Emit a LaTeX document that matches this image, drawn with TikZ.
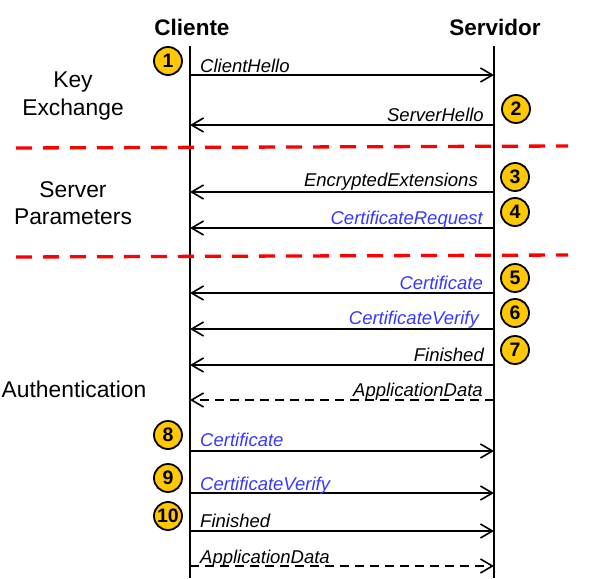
\documentclass[tikz,border=0pt]{standalone}
\usepackage{fontspec}
\setmainfont{Liberation Sans}
\usetikzlibrary{arrows.meta}
\definecolor{gold}{HTML}{FFC800}
\definecolor{msgblue}{HTML}{3838FF}
\definecolor{sepred}{HTML}{FF0000}
\tikzset{
  header/.style={font=\fontsize{22.5}{26}\selectfont\bfseries, anchor=base, inner sep=0pt},
  phase/.style={font=\fontsize{22.8}{27.5}\selectfont, align=center, inner sep=0pt},
  lifeline/.style={line width=2.2pt},
  msg/.style={line width=1.8pt, -{Straight Barb[length=12pt,width=14pt,line width=1.6pt]}},
  dmsg/.style={msg, dash pattern=on 9pt off 6pt},
  lbl/.style={font=\fontsize{18.5}{22}\selectfont\itshape, inner sep=0pt},
  lblR/.style={lbl, anchor=base east},
  lblL/.style={lbl, anchor=base west},
  blue/.style={text=msgblue},
  badge/.style={circle, draw=black, line width=1.8pt, fill=gold, minimum size=28pt, inner sep=0pt, font=\fontsize{19.5}{19.5}\selectfont\bfseries},
  sep/.style={draw=sepred, line width=3.3pt, dash pattern=on 16pt off 11pt},
}
\begin{document}
\begin{tikzpicture}[x=1pt,y=-1pt]
\useasboundingbox (0,0) rectangle (602,578);
% headers
\node[header] (hc) at (192,36) {Cliente};
\node[header] (hs) at (495,36) {Servidor};
% lifelines
\coordinate (ct) at (190,46); \coordinate (cb) at (190,578);
\coordinate (st) at (494,46); \coordinate (sb) at (494,578);
\draw[lifeline] (ct) -- (cb);
\draw[lifeline] (st) -- (sb);
% phases
\node[phase] (p1) at (73,96) {Key\\Exchange};
\node[phase] (p2) at (73,203) {Server\\Parameters};
\node[phase, anchor=base] (p3) at (74,397) {Authentication};
% separators
\coordinate (r1a) at (16,148); \coordinate (r1b) at (568,146);
\coordinate (r2a) at (16,257); \coordinate (r2b) at (568,255);
\draw[sep] (r1a) -- (r1b);
\draw[sep] (r2a) -- (r2b);
% message endpoints
\foreach \n/\y in {1/75,2/125,3/192,4/228,5/293,6/329,7/365,8/400,9/451,10/493,11/531,12/566}{
  \coordinate (c\n) at (190,\y);
  \coordinate (s\n) at (494,\y);
}
% messages
\draw[msg] (c1) -- (s1);
\node[lblL] (m1) at (200,72) {ClientHello};
\draw[msg] (s2) -- (c2);
\node[lblR] (m2) at (484,121) {ServerHello};
\draw[msg] (s3) -- (c3);
\node[lblR] (m3) at (478,186) {EncryptedExtensions};
\draw[msg] (s4) -- (c4);
\node[lblR, blue] (m4) at (483,224) {CertificateRequest};
\draw[msg] (s5) -- (c5);
\node[lblR, blue] (m5) at (483,289) {Certificate};
\draw[msg] (s6) -- (c6);
\node[lblR, blue] (m6) at (479,324) {CertificateVerify};
\draw[msg] (s7) -- (c7);
\node[lblR] (m7) at (484,361) {Finished};
\draw[dmsg] (s8) -- (c8);
\node[lblR] (m8) at (483,396) {ApplicationData};
\draw[msg] (c9) -- (s9);
\node[lblL, blue] (m9) at (200,446) {Certificate};
\draw[msg] (c10) -- (s10);
\node[lblL, blue] (m10) at (200,490) {CertificateVerify};
\draw[msg] (c11) -- (s11);
\node[lblL] (m11) at (200,527) {Finished};
\draw[dmsg] (c12) -- (s12);
\node[lblL] (m12) at (200,563) {ApplicationData};
% badges
\node[badge] (b1) at (168,61) {1};
\node[badge] (b2) at (516,109) {2};
\node[badge] (b3) at (515,177) {3};
\node[badge] (b4) at (515,212) {4};
\node[badge] (b5) at (515,278) {5};
\node[badge] (b6) at (515,313) {6};
\node[badge] (b7) at (515,350) {7};
\node[badge] (b8) at (168,435) {8};
\node[badge] (b9) at (168,478) {9};
\node[badge] (b10) at (168,516) {10};
\end{tikzpicture}
\end{document}
